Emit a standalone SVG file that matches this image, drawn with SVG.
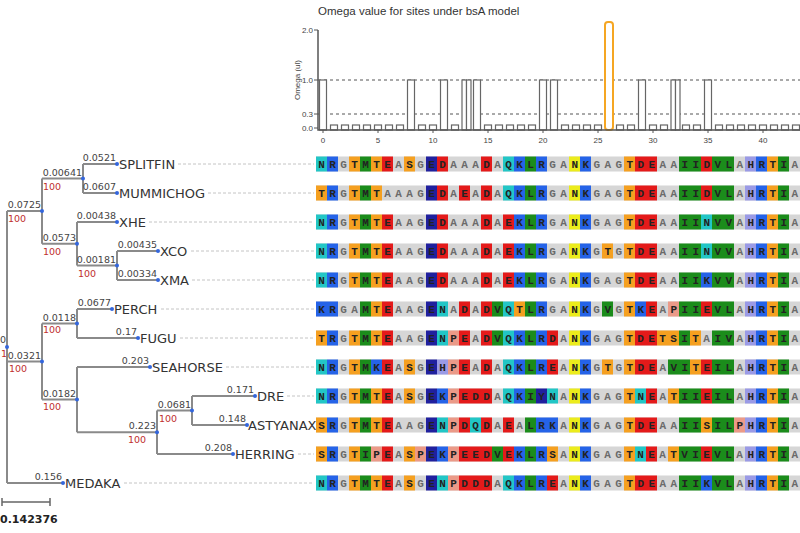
<svg xmlns="http://www.w3.org/2000/svg" width="800" height="533" viewBox="0 0 800 533">
<style>
.br{fill:none;stroke:#8a8a8a;stroke-width:2}
.dot{fill:#3366dd}
.bl{font-family:"DejaVu Sans",sans-serif;font-size:9.5px;fill:#444;text-anchor:end}
.bs{font-family:"DejaVu Sans",sans-serif;font-size:9.5px;fill:#c03030}
.sp{font-family:"DejaVu Sans",sans-serif;font-size:13px;fill:#333}
.ld{stroke:#c4c4c4;stroke-width:1;stroke-dasharray:3 2}
.al rect{width:11px;height:15px}
.a{fill:#d6d6d6}.c{fill:#22c6c6}.b{fill:#2563e8}.o{fill:#f5a020}.g{fill:#1b8c1b}.r{fill:#e41a1a}.d{fill:#20209e}.y{fill:#ecec1c}.l{fill:#9a9ae6}.p{fill:#eb9a88}
.sq{font-family:"Liberation Mono",monospace;font-size:11px;font-weight:bold;letter-spacing:4.4px;fill:#222}
.q{fill:#6a6a6a}
.e{letter-spacing:0}
.ax{font-family:"Liberation Sans",Arial,sans-serif;font-size:8px;fill:#444}
.bar{fill:#fff;stroke:#666;stroke-width:1.2}
.ref{stroke:#555;stroke-width:1;stroke-dasharray:3 3}
</style>
<rect width="800" height="533" fill="#fff"/>

<g id="chart">
<text x="318" y="15" font-family="Liberation Sans, Arial, sans-serif" font-size="11.5" fill="#333">Omega value for sites under bsA model</text>
<text class="ax" x="300" y="80" text-anchor="middle" transform="rotate(-90 300 80)">Omega (ul)</text>
<line class="ref" x1="318" y1="80" x2="800" y2="80"/>
<line class="ref" x1="318" y1="114" x2="800" y2="114"/>
<g class="bar">
<rect x="319.5" y="80" width="7" height="50"/>
<rect x="330.5" y="125" width="7" height="5"/><rect x="341.5" y="125" width="7" height="5"/><rect x="352.5" y="125" width="7" height="5"/><rect x="363.5" y="125" width="7" height="5"/><rect x="374.5" y="125" width="7" height="5"/><rect x="385.5" y="125" width="7" height="5"/><rect x="396.5" y="125" width="7" height="5"/>
<rect x="407.5" y="80" width="7" height="50"/>
<rect x="418.5" y="125" width="7" height="5"/><rect x="429.5" y="125" width="7" height="5"/>
<rect x="440.5" y="80" width="7" height="50"/>
<rect x="451.5" y="125" width="7" height="5"/>
<rect x="462" y="80" width="4.5" height="50"/><rect x="466.5" y="80" width="4.5" height="50"/>
<rect x="473.5" y="80" width="7" height="50"/>
<rect x="484.5" y="125" width="7" height="5"/><rect x="495.5" y="125" width="7" height="5"/><rect x="506.5" y="125" width="7" height="5"/><rect x="517.5" y="125" width="7" height="5"/><rect x="528.5" y="125" width="7" height="5"/>
<rect x="539.5" y="80" width="7" height="50"/><rect x="550.5" y="80" width="7" height="50"/>
<rect x="561.5" y="125" width="7" height="5"/><rect x="572.5" y="125" width="7" height="5"/><rect x="583.5" y="125" width="7" height="5"/><rect x="594.5" y="125" width="7" height="5"/>
<rect x="616.5" y="125" width="7" height="5"/><rect x="627.5" y="125" width="7" height="5"/>
<rect x="638.5" y="80" width="7" height="50"/>
<rect x="649.5" y="125" width="7" height="5"/><rect x="660.5" y="125" width="7" height="5"/>
<rect x="671" y="80" width="4.5" height="50"/><rect x="675.5" y="80" width="4.5" height="50"/>
<rect x="682.5" y="125" width="7" height="5"/><rect x="693.5" y="125" width="7" height="5"/>
<rect x="704.5" y="80" width="7" height="50"/>
<rect x="715.5" y="125" width="7" height="5"/><rect x="726.5" y="125" width="7" height="5"/><rect x="737.5" y="125" width="7" height="5"/><rect x="748.5" y="125" width="7" height="5"/><rect x="759.5" y="125" width="7" height="5"/><rect x="770.5" y="125" width="7" height="5"/><rect x="781.5" y="125" width="7" height="5"/><rect x="792.5" y="125" width="7" height="5"/>
</g>
<rect x="605" y="22" width="8" height="108" rx="3" fill="#fff" stroke="#f5a623" stroke-width="2"/>
<path d="M318,30V130H800" fill="none" stroke="#555" stroke-width="1.5"/>
<path d="M314,30H318M314,80H318M314,114H318M314,128H318M323,130V133M378,130V133M433,130V133M488,130V133M543,130V133M598,130V133M653,130V133M708,130V133M763,130V133" stroke="#555" stroke-width="1"/>
<g class="ax" text-anchor="end">
<text x="313" y="33">2.0</text><text x="313" y="83">1.0</text><text x="313" y="117">0.3</text><text x="313" y="131">0.0</text>
</g>
<g class="ax" text-anchor="middle">
<text x="323" y="143">0</text><text x="378" y="143">5</text><text x="433" y="143">10</text><text x="488" y="143">15</text><text x="543" y="143">20</text><text x="598" y="143">25</text><text x="653" y="143">30</text><text x="708" y="143">35</text><text x="763" y="143">40</text>
</g>
</g>

<g id="connectors">
<path class="br" d="M7,211V483M7,211H42M7,361.5H42M7,483H63
M42,178.5V243.75M42,178.5H83M42,243.75H77
M83,164V193M83,164H117M83,193H117
M77,222V265.5M77,222H117M77,265.5H117
M117,251V280M117,251H158M117,280H158
M42,323.5V399.5M42,323.5H77M42,399.5H77
M77,309V338M77,309H112M77,338H138
M77,367V432.25M77,367H150M77,432.25H157
M157,410.5V454M157,410.5H192M157,454H233
M192,396V425M192,396H255M192,425H247"/>
</g>

<g id="internal-nodes">
<g class="dot"><circle cx="7" cy="347" r="2"/><circle cx="42" cy="211" r="2"/><circle cx="83" cy="178.5" r="2"/><circle cx="77" cy="243.75" r="2"/><circle cx="117" cy="265.5" r="2"/><circle cx="42" cy="361.5" r="2"/><circle cx="77" cy="323.5" r="2"/><circle cx="77" cy="399.5" r="2"/><circle cx="157" cy="432.25" r="2"/><circle cx="192" cy="410.5" r="2"/></g>
<text class="bl" x="6" y="343">0</text>
<text class="bs" x="1" y="357">1</text>
<text class="bl" x="41" y="208">0.0725</text><text class="bs" x="8" y="222">100</text>
<text class="bl" x="41" y="358.5">0.0321</text><text class="bs" x="9" y="372">100</text>
<text class="bl" x="82" y="175.5">0.00641</text><text class="bs" x="43" y="189.5">100</text>
<text class="bl" x="76" y="240.75">0.0573</text><text class="bs" x="43" y="254.5">100</text>
<text class="bl" x="116" y="262.5">0.00181</text><text class="bs" x="78" y="276.5">100</text>
<text class="bl" x="76" y="320.5">0.0118</text><text class="bs" x="43" y="333">100</text>
<text class="bl" x="76" y="396.5">0.0182</text><text class="bs" x="43" y="410">100</text>
<text class="bl" x="156" y="429">0.223</text><text class="bs" x="128" y="443">100</text>
<text class="bl" x="191" y="407.5">0.0681</text><text class="bs" x="159" y="421.5">100</text>
</g>

<g id="scale">
<path d="M2,502H50M2,498V506M50,498V506" stroke="#666" stroke-width="1.5" fill="none"/>
<text x="0" y="523" font-family="DejaVu Sans, sans-serif" font-size="11" font-weight="bold" fill="#222">0.142376</text>
</g>

<g id="SPLITFIN">
<text class="bl" x="116" y="161">0.0521</text><circle class="dot" cx="117" cy="164" r="2"/>
<text class="sp" x="119" y="168.5">SPLITFIN</text><line class="ld" x1="178" y1="164" x2="314" y2="164"/>
<g class="al" transform="translate(0,156.5)"><rect class="a" x="316" style="width:484px"/>
<rect class="c" x="316"/><rect class="b" x="327"/><rect class="o" x="349"/><rect class="g" x="360"/><rect class="o" x="371"/><rect class="r" x="382"/><rect class="o" x="404"/><rect class="d" x="426"/><rect class="r" x="437"/><rect class="r" x="481"/><rect class="c" x="503"/><rect class="b" x="514"/><rect class="g" x="525"/><rect class="b" x="536"/><rect class="y" x="569"/><rect class="b" x="580"/><rect class="o" x="624"/><rect class="r" x="635"/><rect class="r" x="646"/><rect class="g" x="679"/><rect class="g" x="690"/><rect class="r" x="701"/><rect class="g" x="712"/><rect class="g" x="723"/><rect class="l" x="745"/><rect class="b" x="756"/><rect class="o" x="767"/><rect class="g" x="778"/>
<text class="sq" x="318.2" y="11.5">NR<tspan class="q">G</tspan>TMTE<tspan class="q">A</tspan>S<tspan class="q">G</tspan>ED<tspan class="q">AAA</tspan>D<tspan class="q">A</tspan>QKLR<tspan class="q">GA</tspan>NK<tspan class="q">GAG</tspan>TDE<tspan class="q">AA</tspan>IIDVL<tspan class="q">A</tspan>HRTI<tspan class="q e">A</tspan></text></g>
</g>

<g id="MUMMICHOG">
<text class="bl" x="116" y="190">0.0607</text><circle class="dot" cx="117" cy="193" r="2"/>
<text class="sp" x="119" y="197.5">MUMMICHOG</text><line class="ld" x1="208" y1="193" x2="314" y2="193"/>
<g class="al" transform="translate(0,185.5)"><rect class="a" x="316" style="width:484px"/>
<rect class="o" x="316"/><rect class="b" x="327"/><rect class="o" x="349"/><rect class="g" x="360"/><rect class="o" x="371"/><rect class="d" x="426"/><rect class="r" x="437"/><rect class="r" x="459"/><rect class="r" x="481"/><rect class="c" x="503"/><rect class="b" x="514"/><rect class="g" x="525"/><rect class="b" x="536"/><rect class="y" x="569"/><rect class="b" x="580"/><rect class="o" x="624"/><rect class="r" x="635"/><rect class="r" x="646"/><rect class="g" x="679"/><rect class="g" x="690"/><rect class="r" x="701"/><rect class="g" x="712"/><rect class="g" x="723"/><rect class="l" x="745"/><rect class="b" x="756"/><rect class="o" x="767"/><rect class="g" x="778"/>
<text class="sq" x="318.2" y="11.5">TR<tspan class="q">G</tspan>TMT<tspan class="q">AAAG</tspan>ED<tspan class="q">A</tspan>E<tspan class="q">A</tspan>D<tspan class="q">A</tspan>QKLR<tspan class="q">GA</tspan>NK<tspan class="q">GAG</tspan>TDE<tspan class="q">AA</tspan>IIDVL<tspan class="q">A</tspan>HRTI<tspan class="q e">A</tspan></text></g>
</g>

<g id="XHE">
<text class="bl" x="116" y="219">0.00438</text><circle class="dot" cx="117" cy="222" r="2"/>
<text class="sp" x="119" y="226.5">XHE</text><line class="ld" x1="149" y1="222" x2="314" y2="222"/>
<g class="al" transform="translate(0,214.5)"><rect class="a" x="316" style="width:484px"/>
<rect class="c" x="316"/><rect class="b" x="327"/><rect class="o" x="349"/><rect class="g" x="360"/><rect class="o" x="371"/><rect class="r" x="382"/><rect class="d" x="426"/><rect class="r" x="437"/><rect class="r" x="481"/><rect class="r" x="503"/><rect class="b" x="514"/><rect class="g" x="525"/><rect class="b" x="536"/><rect class="y" x="569"/><rect class="b" x="580"/><rect class="o" x="624"/><rect class="r" x="635"/><rect class="r" x="646"/><rect class="g" x="679"/><rect class="g" x="690"/><rect class="c" x="701"/><rect class="g" x="712"/><rect class="g" x="723"/><rect class="l" x="745"/><rect class="b" x="756"/><rect class="o" x="767"/><rect class="g" x="778"/>
<text class="sq" x="318.2" y="11.5">NR<tspan class="q">G</tspan>TMTE<tspan class="q">AAG</tspan>ED<tspan class="q">AAA</tspan>D<tspan class="q">A</tspan>EKLR<tspan class="q">GA</tspan>NK<tspan class="q">GAG</tspan>TDE<tspan class="q">AA</tspan>IINVV<tspan class="q">A</tspan>HRTI<tspan class="q e">A</tspan></text></g>
</g>

<g id="XCO">
<text class="bl" x="157" y="248">0.00435</text><circle class="dot" cx="158" cy="251" r="2"/>
<text class="sp" x="160" y="255.5">XCO</text><line class="ld" x1="191" y1="251" x2="314" y2="251"/>
<g class="al" transform="translate(0,243.5)"><rect class="a" x="316" style="width:484px"/>
<rect class="c" x="316"/><rect class="b" x="327"/><rect class="o" x="349"/><rect class="g" x="360"/><rect class="o" x="371"/><rect class="r" x="382"/><rect class="d" x="426"/><rect class="r" x="437"/><rect class="r" x="481"/><rect class="r" x="503"/><rect class="b" x="514"/><rect class="g" x="525"/><rect class="b" x="536"/><rect class="y" x="569"/><rect class="b" x="580"/><rect class="o" x="602"/><rect class="o" x="624"/><rect class="r" x="635"/><rect class="r" x="646"/><rect class="g" x="679"/><rect class="g" x="690"/><rect class="c" x="701"/><rect class="g" x="712"/><rect class="g" x="723"/><rect class="l" x="745"/><rect class="b" x="756"/><rect class="o" x="767"/><rect class="g" x="778"/>
<text class="sq" x="318.2" y="11.5">NR<tspan class="q">G</tspan>TMTE<tspan class="q">AAG</tspan>ED<tspan class="q">AAA</tspan>D<tspan class="q">A</tspan>EKLR<tspan class="q">GA</tspan>NK<tspan class="q">G</tspan>T<tspan class="q">G</tspan>TDE<tspan class="q">AA</tspan>IINVV<tspan class="q">A</tspan>HRTI<tspan class="q e">A</tspan></text></g>
</g>

<g id="XMA">
<text class="bl" x="157" y="277">0.00334</text><circle class="dot" cx="158" cy="280" r="2"/>
<text class="sp" x="160" y="284.5">XMA</text><line class="ld" x1="192" y1="280" x2="314" y2="280"/>
<g class="al" transform="translate(0,272.5)"><rect class="a" x="316" style="width:484px"/>
<rect class="c" x="316"/><rect class="b" x="327"/><rect class="o" x="349"/><rect class="g" x="360"/><rect class="o" x="371"/><rect class="r" x="382"/><rect class="d" x="426"/><rect class="r" x="437"/><rect class="r" x="481"/><rect class="r" x="503"/><rect class="b" x="514"/><rect class="g" x="525"/><rect class="b" x="536"/><rect class="y" x="569"/><rect class="b" x="580"/><rect class="o" x="624"/><rect class="r" x="635"/><rect class="r" x="646"/><rect class="g" x="679"/><rect class="g" x="690"/><rect class="b" x="701"/><rect class="g" x="712"/><rect class="g" x="723"/><rect class="l" x="745"/><rect class="b" x="756"/><rect class="o" x="767"/><rect class="g" x="778"/>
<text class="sq" x="318.2" y="11.5">NR<tspan class="q">G</tspan>TMTE<tspan class="q">AAG</tspan>ED<tspan class="q">AAA</tspan>D<tspan class="q">A</tspan>EKLR<tspan class="q">GA</tspan>NK<tspan class="q">GAG</tspan>TDE<tspan class="q">AA</tspan>IIKVV<tspan class="q">A</tspan>HRTI<tspan class="q e">A</tspan></text></g>
</g>

<g id="PERCH">
<text class="bl" x="111" y="306">0.0677</text><circle class="dot" cx="112" cy="309" r="2"/>
<text class="sp" x="114" y="313.5">PERCH</text><line class="ld" x1="161" y1="309" x2="314" y2="309"/>
<g class="al" transform="translate(0,301.5)"><rect class="a" x="316" style="width:484px"/>
<rect class="b" x="316"/><rect class="b" x="327"/><rect class="g" x="360"/><rect class="o" x="371"/><rect class="r" x="382"/><rect class="d" x="426"/><rect class="c" x="437"/><rect class="r" x="459"/><rect class="r" x="481"/><rect class="g" x="492"/><rect class="c" x="503"/><rect class="o" x="514"/><rect class="g" x="525"/><rect class="b" x="536"/><rect class="y" x="569"/><rect class="b" x="580"/><rect class="g" x="602"/><rect class="o" x="624"/><rect class="b" x="635"/><rect class="r" x="646"/><rect class="p" x="668"/><rect class="g" x="679"/><rect class="g" x="690"/><rect class="r" x="701"/><rect class="g" x="712"/><rect class="g" x="723"/><rect class="l" x="745"/><rect class="b" x="756"/><rect class="o" x="767"/><rect class="g" x="778"/>
<text class="sq" x="318.2" y="11.5">KR<tspan class="q">GA</tspan>MTE<tspan class="q">AAG</tspan>EN<tspan class="q">A</tspan>D<tspan class="q">A</tspan>DVQTLR<tspan class="q">GA</tspan>NK<tspan class="q">G</tspan>V<tspan class="q">G</tspan>TKE<tspan class="q">A</tspan>PIIEVL<tspan class="q">A</tspan>HRTI<tspan class="q e">A</tspan></text></g>
</g>

<g id="FUGU">
<text class="bl" x="137" y="335">0.17</text><circle class="dot" cx="138" cy="338" r="2"/>
<text class="sp" x="140" y="342.5">FUGU</text><line class="ld" x1="180" y1="338" x2="314" y2="338"/>
<g class="al" transform="translate(0,330.5)"><rect class="a" x="316" style="width:484px"/>
<rect class="o" x="316"/><rect class="b" x="327"/><rect class="o" x="349"/><rect class="g" x="360"/><rect class="o" x="371"/><rect class="r" x="382"/><rect class="d" x="426"/><rect class="c" x="437"/><rect class="p" x="448"/><rect class="r" x="459"/><rect class="r" x="481"/><rect class="g" x="492"/><rect class="c" x="503"/><rect class="b" x="514"/><rect class="g" x="525"/><rect class="b" x="536"/><rect class="r" x="547"/><rect class="y" x="569"/><rect class="b" x="580"/><rect class="o" x="624"/><rect class="r" x="635"/><rect class="r" x="646"/><rect class="o" x="657"/><rect class="o" x="668"/><rect class="g" x="679"/><rect class="o" x="690"/><rect class="g" x="712"/><rect class="g" x="723"/><rect class="l" x="745"/><rect class="b" x="756"/><rect class="o" x="767"/><rect class="g" x="778"/>
<text class="sq" x="318.2" y="11.5">TR<tspan class="q">G</tspan>TMTE<tspan class="q">AAG</tspan>ENPE<tspan class="q">A</tspan>DVQKLRD<tspan class="q">A</tspan>NK<tspan class="q">GAG</tspan>TDETSIT<tspan class="q">A</tspan>IV<tspan class="q">A</tspan>HRTI<tspan class="q e">A</tspan></text></g>
</g>

<g id="SEAHORSE">
<text class="bl" x="149" y="364">0.203</text><circle class="dot" cx="150" cy="367" r="2"/>
<text class="sp" x="152" y="371.5">SEAHORSE</text><line class="ld" x1="226" y1="367" x2="314" y2="367"/>
<g class="al" transform="translate(0,359.5)"><rect class="a" x="316" style="width:484px"/>
<rect class="c" x="316"/><rect class="b" x="327"/><rect class="o" x="349"/><rect class="g" x="360"/><rect class="b" x="371"/><rect class="r" x="382"/><rect class="o" x="404"/><rect class="d" x="426"/><rect class="l" x="437"/><rect class="p" x="448"/><rect class="r" x="459"/><rect class="r" x="481"/><rect class="c" x="503"/><rect class="b" x="514"/><rect class="g" x="525"/><rect class="b" x="536"/><rect class="r" x="547"/><rect class="y" x="569"/><rect class="b" x="580"/><rect class="o" x="602"/><rect class="o" x="624"/><rect class="r" x="635"/><rect class="r" x="646"/><rect class="g" x="668"/><rect class="g" x="679"/><rect class="o" x="690"/><rect class="r" x="701"/><rect class="g" x="712"/><rect class="g" x="723"/><rect class="l" x="745"/><rect class="b" x="756"/><rect class="o" x="767"/><rect class="g" x="778"/>
<text class="sq" x="318.2" y="11.5">NR<tspan class="q">G</tspan>TMKE<tspan class="q">A</tspan>S<tspan class="q">G</tspan>EHPE<tspan class="q">A</tspan>D<tspan class="q">A</tspan>QKLRE<tspan class="q">A</tspan>NK<tspan class="q">G</tspan>T<tspan class="q">G</tspan>TDE<tspan class="q">A</tspan>VITEIL<tspan class="q">A</tspan>HRTI<tspan class="q e">A</tspan></text></g>
</g>

<g id="DRE">
<text class="bl" x="254" y="393">0.171</text><circle class="dot" cx="255" cy="396" r="2"/>
<text class="sp" x="257" y="400.5">DRE</text><line class="ld" x1="287" y1="396" x2="314" y2="396"/>
<g class="al" transform="translate(0,388.5)"><rect class="a" x="316" style="width:484px"/>
<rect class="c" x="316"/><rect class="b" x="327"/><rect class="o" x="349"/><rect class="g" x="360"/><rect class="o" x="371"/><rect class="r" x="382"/><rect class="o" x="404"/><rect class="d" x="426"/><rect class="b" x="437"/><rect class="p" x="448"/><rect class="r" x="459"/><rect class="r" x="470"/><rect class="r" x="481"/><rect class="c" x="503"/><rect class="b" x="514"/><rect class="g" x="525"/><rect class="d" x="536"/><rect class="c" x="547"/><rect class="y" x="569"/><rect class="b" x="580"/><rect class="o" x="624"/><rect class="c" x="635"/><rect class="r" x="646"/><rect class="o" x="668"/><rect class="g" x="679"/><rect class="g" x="690"/><rect class="r" x="701"/><rect class="g" x="712"/><rect class="g" x="723"/><rect class="l" x="745"/><rect class="b" x="756"/><rect class="o" x="767"/><rect class="g" x="778"/>
<text class="sq" x="318.2" y="11.5">NR<tspan class="q">G</tspan>TMTE<tspan class="q">A</tspan>S<tspan class="q">G</tspan>EKPEDD<tspan class="q">A</tspan>QKIYN<tspan class="q">A</tspan>NK<tspan class="q">GAG</tspan>TNE<tspan class="q">A</tspan>TIIEIL<tspan class="q">A</tspan>HRTI<tspan class="q e">A</tspan></text></g>
</g>

<g id="ASTYANAX">
<text class="bl" x="246" y="422">0.148</text><circle class="dot" cx="247" cy="425" r="2"/>
<text class="sp" x="248" y="429.5">ASTYANAX</text>
<g class="al" transform="translate(0,417.5)"><rect class="a" x="316" style="width:484px"/>
<rect class="o" x="316"/><rect class="b" x="327"/><rect class="o" x="349"/><rect class="g" x="360"/><rect class="o" x="371"/><rect class="r" x="382"/><rect class="d" x="426"/><rect class="c" x="437"/><rect class="p" x="448"/><rect class="r" x="459"/><rect class="c" x="470"/><rect class="r" x="481"/><rect class="r" x="503"/><rect class="g" x="525"/><rect class="b" x="536"/><rect class="b" x="547"/><rect class="y" x="569"/><rect class="b" x="580"/><rect class="o" x="624"/><rect class="r" x="635"/><rect class="r" x="646"/><rect class="g" x="679"/><rect class="g" x="690"/><rect class="o" x="701"/><rect class="g" x="712"/><rect class="g" x="723"/><rect class="p" x="734"/><rect class="l" x="745"/><rect class="b" x="756"/><rect class="o" x="767"/><rect class="g" x="778"/>
<text class="sq" x="318.2" y="11.5">SR<tspan class="q">G</tspan>TMTE<tspan class="q">AAG</tspan>ENPDQD<tspan class="q">A</tspan>E<tspan class="q">A</tspan>LRK<tspan class="q">A</tspan>NK<tspan class="q">GAG</tspan>TDE<tspan class="q">AA</tspan>IISILPHRTI<tspan class="q e">A</tspan></text></g>
</g>

<g id="HERRING">
<text class="bl" x="232" y="451">0.208</text><circle class="dot" cx="233" cy="454" r="2"/>
<text class="sp" x="235" y="458.5">HERRING</text><line class="ld" x1="298" y1="454" x2="314" y2="454"/>
<g class="al" transform="translate(0,446.5)"><rect class="a" x="316" style="width:484px"/>
<rect class="o" x="316"/><rect class="b" x="327"/><rect class="o" x="349"/><rect class="g" x="360"/><rect class="p" x="371"/><rect class="r" x="382"/><rect class="o" x="404"/><rect class="p" x="415"/><rect class="d" x="426"/><rect class="b" x="437"/><rect class="p" x="448"/><rect class="r" x="459"/><rect class="r" x="470"/><rect class="r" x="481"/><rect class="g" x="492"/><rect class="r" x="503"/><rect class="b" x="514"/><rect class="g" x="525"/><rect class="b" x="536"/><rect class="o" x="547"/><rect class="y" x="569"/><rect class="b" x="580"/><rect class="o" x="624"/><rect class="c" x="635"/><rect class="r" x="646"/><rect class="o" x="668"/><rect class="g" x="679"/><rect class="g" x="690"/><rect class="r" x="701"/><rect class="g" x="712"/><rect class="g" x="723"/><rect class="l" x="745"/><rect class="b" x="756"/><rect class="o" x="767"/><rect class="g" x="778"/>
<text class="sq" x="318.2" y="11.5">SR<tspan class="q">G</tspan>TIPE<tspan class="q">A</tspan>SPEKPEEDVEKLRS<tspan class="q">A</tspan>NK<tspan class="q">GAG</tspan>TNE<tspan class="q">A</tspan>TVIEVL<tspan class="q">A</tspan>HRTI<tspan class="q e">A</tspan></text></g>
</g>

<g id="MEDAKA">
<text class="bl" x="62" y="480">0.156</text><circle class="dot" cx="63" cy="483" r="2"/>
<text class="sp" x="65" y="487.5">MEDAKA</text><line class="ld" x1="124" y1="483" x2="314" y2="483"/>
<g class="al" transform="translate(0,475.5)"><rect class="a" x="316" style="width:484px"/>
<rect class="c" x="316"/><rect class="b" x="327"/><rect class="o" x="349"/><rect class="g" x="360"/><rect class="o" x="371"/><rect class="r" x="382"/><rect class="o" x="404"/><rect class="d" x="426"/><rect class="c" x="437"/><rect class="p" x="448"/><rect class="r" x="459"/><rect class="r" x="470"/><rect class="r" x="481"/><rect class="c" x="503"/><rect class="b" x="514"/><rect class="g" x="525"/><rect class="b" x="536"/><rect class="r" x="547"/><rect class="y" x="569"/><rect class="b" x="580"/><rect class="o" x="624"/><rect class="r" x="635"/><rect class="r" x="646"/><rect class="g" x="679"/><rect class="g" x="690"/><rect class="b" x="701"/><rect class="g" x="712"/><rect class="g" x="723"/><rect class="l" x="745"/><rect class="b" x="756"/><rect class="o" x="767"/><rect class="g" x="778"/>
<text class="sq" x="318.2" y="11.5">NR<tspan class="q">G</tspan>TMTE<tspan class="q">A</tspan>S<tspan class="q">G</tspan>ENPDDD<tspan class="q">A</tspan>QKLRE<tspan class="q">A</tspan>NK<tspan class="q">GAG</tspan>TDE<tspan class="q">AA</tspan>IIKVL<tspan class="q">A</tspan>HRTI<tspan class="q e">A</tspan></text></g>
</g>
</svg>
